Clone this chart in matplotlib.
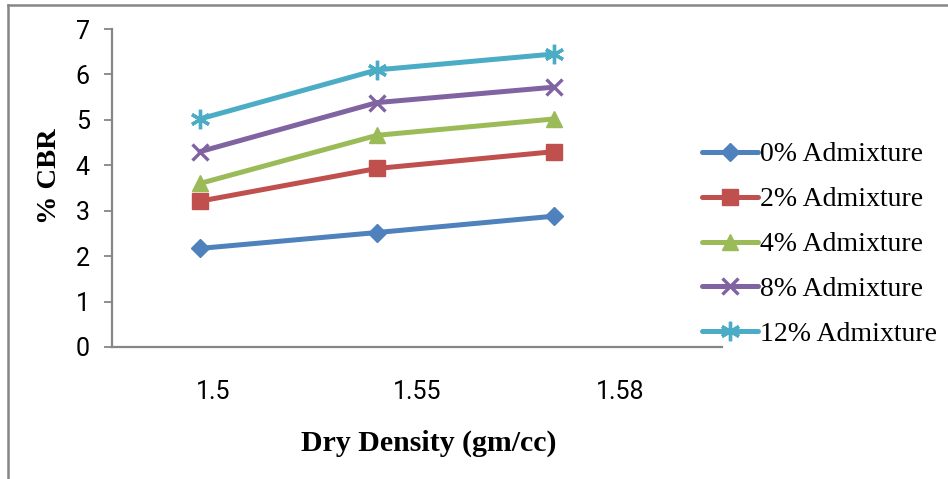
import matplotlib
matplotlib.use("Agg")
import matplotlib.pyplot as plt
from matplotlib.lines import Line2D

# Data.
densities = ["1.5", "1.55", "1.58"]
series_labels = ["0% Admixture", "2% Admixture", "4% Admixture",
                 "8% Admixture", "12% Admixture"]
cbr_0 = [2.17, 2.52, 2.88]
cbr_2 = [3.21, 3.93, 4.30]
cbr_4 = [3.60, 4.66, 5.02]
cbr_8 = [4.30, 5.38, 5.72]
cbr_12 = [5.02, 6.10, 6.45]

colors = ["#4F81BD", "#C0504D", "#9BBB59", "#8064A2", "#4BACC6"]
markers = ["D", "s", "^", "x", (6, 2, 0)]
msizes = [9, 12, 12, 12, 14]
axis_gray = "#868686"

fig = plt.figure(figsize=(9.48, 4.79), dpi=100)
ax = fig.add_axes([112 / 948, 1 - 347 / 479, 610 / 948, 318 / 479])

xs = list(range(len(densities)))
all_series = [cbr_0, cbr_2, cbr_4, cbr_8, cbr_12]
handles = []
for ys, lab, c, m, ms in zip(all_series, series_labels, colors, markers, msizes):
  h, = ax.plot(xs, ys, color=c, lw=3.6, marker=m, markersize=ms,
               markeredgewidth=2.4 if m in ("x", (6, 2, 0)) else 1,
               markeredgecolor=c, markerfacecolor=c, label=lab,
               solid_capstyle="round")
  handles.append(h)

ax.set_xlim(-0.497, 2.949)
ax.set_ylim(0, 7)
ax.set_yticks(range(0, 8))
ax.set_xticks([])
for s in ("top", "right"):
  ax.spines[s].set_visible(False)
for s in ("left", "bottom"):
  ax.spines[s].set_color(axis_gray)
  ax.spines[s].set_linewidth(1.6)
ax.tick_params(axis="y", direction="out", length=6, width=1.3, color=axis_gray,
               pad=10, labelsize=18)
for t in ax.get_yticklabels():
  t.set_family("Roboto")

# category labels sit at slot centres, like the original
ax2 = ax.twiny()
ax2.set_xlim(0, len(densities))
ax2.set_xticks([i + 0.5 for i in range(len(densities))])
ax2.set_xticklabels(densities, family="Roboto", fontsize=18)
ax2.xaxis.set_ticks_position("bottom")
ax2.tick_params(axis="x", length=0, pad=24)
for s in ax2.spines.values():
  s.set_visible(False)

fig.text(429 / 948, 1 - 443 / 479, "Dry Density (gm/cc)", family="Liberation Serif",
         fontweight="bold", fontsize=21.5, ha="center", va="center")
fig.text(50 / 948, 1 - 176 / 479, "% CBR", family="Liberation Serif",
         fontweight="bold", fontsize=20.5, ha="center", va="center", rotation=90)

leg = fig.legend(handles=handles, loc="upper left", bbox_to_anchor=(702 / 948, 1 - 142 / 479),
                 frameon=False, prop={"family": "Liberation Serif", "size": 20},
                 handlelength=2.0, handletextpad=0.1, labelspacing=0.7,
                 borderpad=0, borderaxespad=0)

# outer chart frame (only top and left edges visible in the crop)
fig.add_artist(Line2D([8 / 948, 1], [1 - 5 / 479, 1 - 5 / 479], color=axis_gray, lw=1.8))
fig.add_artist(Line2D([8 / 948, 8 / 948], [0, 1 - 5 / 479], color=axis_gray, lw=1.8))

fig.savefig("out.png", dpi=100)
